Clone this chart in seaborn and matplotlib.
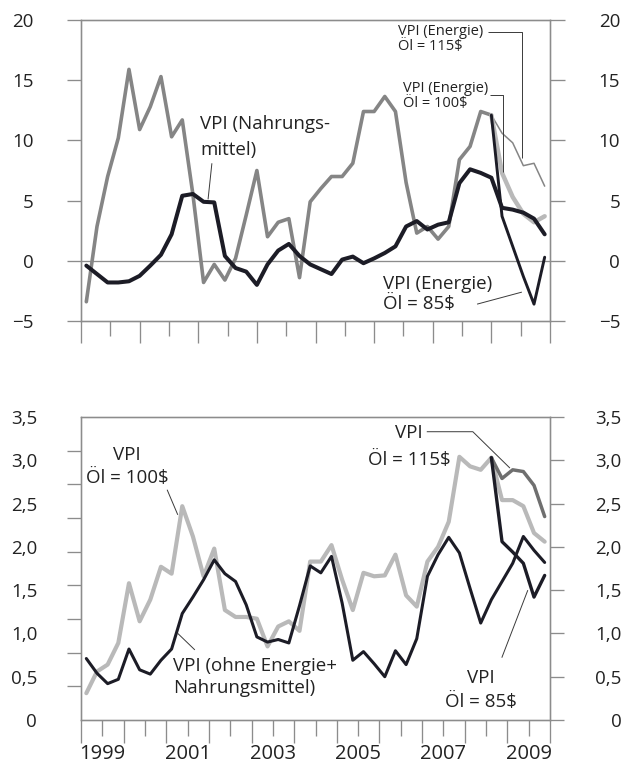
import numpy as np
import pandas as pd
import matplotlib
matplotlib.use("Agg")
import matplotlib.pyplot as plt
import seaborn as sns
from matplotlib.ticker import FixedLocator, FixedFormatter, NullFormatter

sns.set_style("white")
plt.rcParams["font.family"] = ["Open Sans", "DejaVu Sans"]

# ---------------------------------------------------------------- data
quarters = pd.period_range("1999Q1", "2009Q4", freq="Q")
t = np.asarray(quarters.year + (quarters.quarter - 1) / 4 + 0.125, dtype=float)
t_hist = t[:39]          # history up to 2008Q3
t_scen = t[38:]          # scenario path from 2008Q3 onwards

# Upper panel: year-on-year change in %
vpi_nahrung = [-0.4, -1.1, -1.8, -1.8, -1.7, -1.25, -0.4, 0.5, 2.2, 5.4, 5.55, 4.9,
               4.85, 0.4, -0.6, -0.9, -2.0, -0.3, 0.85, 1.4, 0.4, -0.3, -0.7, -1.1,
               0.1, 0.35, -0.2, 0.2, 0.65, 1.2, 2.85, 3.3, 2.6, 3.0, 3.2, 6.45,
               7.6, 7.3, 6.9, 4.4, 4.25, 4.0, 3.5, 2.2]
vpi_energie = [-3.4, 2.85, 7.0, 10.2, 15.9, 10.9, 12.8, 15.3, 10.3, 11.7, 5.5, -1.8,
               -0.3, -1.6, 0.2, 3.8, 7.5, 2.0, 3.2, 3.5, -1.4, 4.9, 6.0, 7.0,
               7.0, 8.1, 12.4, 12.4, 13.65, 12.4, 6.5, 2.3, 2.85, 1.8, 2.85, 8.4,
               9.5, 12.4, 12.1]
energie_oel115 = [12.1, 10.6, 9.8, 7.9, 8.1, 6.2]
energie_oel100 = [12.1, 7.3, 5.3, 3.9, 3.2, 3.7]
energie_oel85 = [12.1, 3.7, 1.2, -1.3, -3.6, 0.3]

# Lower panel: year-on-year change in %
vpi_gesamt = [0.31, 0.56, 0.64, 0.89, 1.58, 1.14, 1.39, 1.77, 1.69, 2.47, 2.12, 1.66,
              1.98, 1.27, 1.19, 1.19, 1.17, 0.85, 1.08, 1.14, 1.03, 1.83, 1.83, 2.02,
              1.62, 1.27, 1.70, 1.66, 1.67, 1.91, 1.44, 1.31, 1.83, 2.0, 2.29, 3.04,
              2.93, 2.89, 3.03]
vpi_kern = [0.71, 0.54, 0.42, 0.47, 0.82, 0.58, 0.53, 0.69, 0.82, 1.23, 1.42, 1.62,
            1.85, 1.69, 1.60, 1.33, 0.96, 0.90, 0.93, 0.89, 1.32, 1.78, 1.70, 1.89,
            1.35, 0.69, 0.79, 0.65, 0.50, 0.80, 0.64, 0.94, 1.66, 1.91, 2.11, 1.93,
            1.52, 1.12, 1.39, 1.60, 1.81, 2.12, 1.96, 1.82]
gesamt_oel115 = [3.03, 2.79, 2.89, 2.87, 2.71, 2.35]
gesamt_oel100 = [3.03, 2.54, 2.54, 2.47, 2.16, 2.06]
gesamt_oel85 = [3.03, 2.06, 1.94, 1.81, 1.42, 1.67]

top_ticks = [-5, 0, 5, 10, 15, 20]
bottom_ticks = [0, 0.5, 1.0, 1.5, 2.0, 2.5, 3.0, 3.5]
bottom_labels = ["0", "0,5", "1,0", "1,5", "2,0", "2,5", "3,0", "3,5"]
year_labels = ["1999", "", "2001", "", "2003", "", "2005", "", "2007", "", "2009"]

# ---------------------------------------------------------------- styling
AX_C = "#8c8c8c"
TXT_C = "#222222"
BLACK = "#1c1c26"
GREY = "#858585"
DARK_GREY = "#6f6f6f"
LIGHT = "#b9b9b9"
LEAD = "#3a3a3a"
FS = 13.5

W, H = 626, 778
fig = plt.figure(figsize=(W / 100, H / 100), dpi=100)


def box(l, t_, r, b):
    return [l / W, 1 - b / H, (r - l) / W, (b - t_) / H]


ax1 = fig.add_axes(box(81, 20, 550, 321))
ax2 = fig.add_axes(box(81, 417, 550, 720))


def line(ax, x, y, color, lw, z):
    sns.lineplot(x=x, y=y, ax=ax, color=color, linewidth=lw, sort=False,
                 zorder=z, legend=False)


# ---- upper panel
line(ax1, t_hist, vpi_energie, GREY, 2.6, 3)
line(ax1, t_scen, energie_oel115, GREY, 1.1, 3)
line(ax1, t_scen, energie_oel100, LIGHT, 3.2, 3)
line(ax1, t, vpi_nahrung, BLACK, 2.9, 4)
line(ax1, t_scen, energie_oel85, BLACK, 2.1, 5)
ax1.axhline(0, color=AX_C, lw=0.95, zorder=1)

# ---- lower panel
line(ax2, t_hist, vpi_gesamt, LIGHT, 3.0, 3)
line(ax2, t_scen, gesamt_oel100, LIGHT, 3.0, 3)
line(ax2, t_scen, gesamt_oel115, DARK_GREY, 2.5, 3)
line(ax2, t, vpi_kern, BLACK, 2.2, 4)
line(ax2, t_scen, gesamt_oel85, BLACK, 2.4, 5)

for ax in (ax1, ax2):
    ax.set_xlim(1999, 2010)
    ax.set_xlabel("")
    ax.set_ylabel("")
    for s in ax.spines.values():
        s.set_visible(True)
        s.set_color(AX_C)
        s.set_linewidth(0.95)

ax1.set_ylim(-5, 20)
ax2.set_ylim(0, 3.5)

# upper x ticks (no labels)
ax1.xaxis.set_major_locator(FixedLocator(np.linspace(1999, 2010, 9)))
ax1.xaxis.set_minor_locator(FixedLocator(np.linspace(1999, 2010, 17)[1::2]))
ax1.xaxis.set_major_formatter(NullFormatter())
ax1.tick_params(axis="x", which="major", bottom=True, length=15.8, width=0.95, color=AX_C)
ax1.tick_params(axis="x", which="minor", bottom=True, length=10.8, width=0.95, color=AX_C)

# upper y ticks, left
ax1.yaxis.set_major_locator(FixedLocator(top_ticks))
ax1.yaxis.set_major_formatter(FixedFormatter([str(v).replace("-", "\u2212") for v in top_ticks]))
ax1.tick_params(axis="y", which="major", left=True, length=10, width=0.95, color=AX_C,
                pad=24, labelsize=FS, labelcolor=TXT_C)

# upper y ticks, right
ax1r = ax1.twinx()
ax1r.set_ylim(-5, 20)
ax1r.yaxis.set_major_locator(FixedLocator(top_ticks))
ax1r.yaxis.set_major_formatter(FixedFormatter([str(v).replace("-", "\u2212") for v in top_ticks]))
ax1r.tick_params(axis="y", which="major", right=True, length=11, width=0.95, color=AX_C,
                 pad=39.5, labelsize=FS, labelcolor=TXT_C)
plt.setp(ax1r.get_yticklabels(), ha="right")

# lower x ticks: year boundaries long, half years short with labels
ax2.xaxis.set_major_locator(FixedLocator(np.arange(1999.5, 2010, 1.0)))
ax2.xaxis.set_major_formatter(FixedFormatter(year_labels))
ax2.xaxis.set_minor_locator(FixedLocator(np.arange(1999, 2011, 1.0)))
ax2.tick_params(axis="x", which="major", bottom=True, length=11.5, width=0.95, color=AX_C,
                pad=6, labelsize=14.5, labelcolor=TXT_C)
ax2.tick_params(axis="x", which="minor", bottom=True, length=16.6, width=0.95, color=AX_C)

# lower y ticks, left: labels every 0.5, tick marks in nine steps
ax2.yaxis.set_major_locator(FixedLocator(bottom_ticks))
ax2.yaxis.set_major_formatter(FixedFormatter(bottom_labels))
ax2.yaxis.set_minor_locator(FixedLocator(np.linspace(0, 3.5, 10)))
ax2.tick_params(axis="y", which="major", left=True, length=0, pad=31.5,
                labelsize=FS, labelcolor=TXT_C)
ax2.tick_params(axis="y", which="minor", left=True, length=10, width=0.95, color=AX_C)

# lower y ticks, right
ax2r = ax2.twinx()
ax2r.set_ylim(0, 3.5)
ax2r.yaxis.set_major_locator(FixedLocator(bottom_ticks))
ax2r.yaxis.set_major_formatter(FixedFormatter(bottom_labels))
ax2r.tick_params(axis="y", which="major", right=True, length=10, width=0.95, color=AX_C,
                 pad=41.5, labelsize=FS, labelcolor=TXT_C)
plt.setp(ax2r.get_yticklabels(), ha="right")

for ax in (ax1r, ax2r):
    for s in ax.spines.values():
        s.set_color(AX_C)
        s.set_linewidth(0.95)

# ---------------------------------------------------------------- annotations
def lead(ax, xs, ys):
    ax.plot(xs, ys, color=LEAD, lw=0.7, zorder=6, solid_capstyle="butt")


ax1.text(2001.79, 12.1, "VPI (Nahrungs-\nmittel)", fontsize=FS, color=TXT_C,
         ha="left", va="top", linespacing=1.55, zorder=7)
lead(ax1, [2002.07, 2001.98], [8.1, 5.1])

ax1.text(2006.43, 19.7, "VPI (Energie)\nÖl = 115$", fontsize=10.5, color=TXT_C,
         ha="left", va="top", linespacing=1.0, zorder=7)
lead(ax1, [2008.54, 2009.34, 2009.34], [19.0, 19.0, 8.5])

ax1.text(2006.55, 14.95, "VPI (Energie)\nÖl = 100$", fontsize=10.5, color=TXT_C,
         ha="left", va="top", linespacing=1.0, zorder=7)
lead(ax1, [2008.6, 2008.9, 2008.9], [13.8, 13.8, 7.4])

ax1.text(2006.08, -1.15, "VPI (Energie)\nÖl = 85$", fontsize=FS, color=TXT_C,
         ha="left", va="top", linespacing=1.2, zorder=7)
lead(ax1, [2008.29, 2009.34], [-3.6, -2.6])

ax2.text(2000.08, 3.17, "VPI\nÖl = 100$", fontsize=FS, color=TXT_C,
         ha="center", va="top", multialignment="center", linespacing=1.35, zorder=7)
lead(ax2, [2001.02, 2001.27], [2.66, 2.37])

ax2.text(2001.16, 0.73, "VPI (ohne Energie+\nNahrungsmittel)", fontsize=FS, color=TXT_C,
         ha="left", va="top", linespacing=1.3, zorder=7)
lead(ax2, [2001.67, 2001.27], [0.81, 1.0])

ax2.text(2006.69, 3.42, "VPI\nÖl = 115$", fontsize=FS, color=TXT_C,
         ha="center", va="top", multialignment="center", linespacing=1.65, zorder=7)
lead(ax2, [2007.11, 2008.19, 2009.06], [3.33, 3.33, 2.91])

ax2.text(2008.38, 0.59, "VPI\nÖl = 85$", fontsize=FS, color=TXT_C,
         ha="center", va="top", multialignment="center", linespacing=1.4, zorder=7)
lead(ax2, [2008.87, 2009.48], [0.72, 1.50])

fig.savefig("out.png", dpi=100, facecolor="white")
